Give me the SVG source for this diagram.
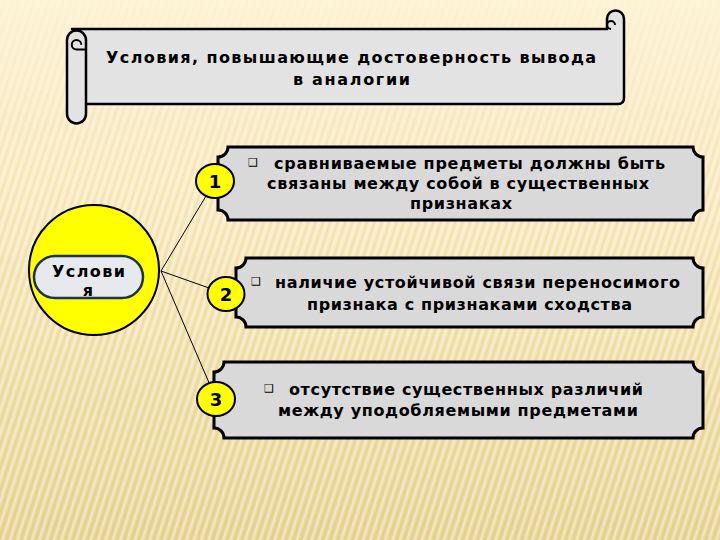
<svg xmlns="http://www.w3.org/2000/svg" width="720" height="540" viewBox="0 0 720 540">
<defs>
<linearGradient id="bg" x1="0" y1="0" x2="0" y2="1">
<stop offset="0" stop-color="#fdf3d6"/>
<stop offset="0.45" stop-color="#f9e9bd"/>
<stop offset="1" stop-color="#e9d696"/>
</linearGradient>
<pattern id="stripes" width="7" height="40" patternUnits="userSpaceOnUse" patternTransform="rotate(18)">
<rect x="0" y="0" width="2.5" height="40" fill="#ffffff" opacity="0.45"/>
<rect x="4" y="0" width="1.5" height="40" fill="#c9b26a" opacity="0.25"/>
</pattern>
<linearGradient id="fade" x1="0" y1="0" x2="0" y2="1">
<stop offset="0" stop-color="#fff" stop-opacity="0.1"/>
<stop offset="0.4" stop-color="#fff" stop-opacity="0.7"/>
<stop offset="1" stop-color="#fff" stop-opacity="0.9"/>
</linearGradient>
<mask id="m"><rect width="720" height="540" fill="url(#fade)"/></mask>
<style>
.scroll{fill:#e3e3e3;stroke:#000;stroke-width:2.5;stroke-linejoin:round}
.curl{fill:none;stroke:#000;stroke-width:2}
.box{fill:#d9d9d9;stroke:#000;stroke-width:3}
.num{fill:#ffff00;stroke:#000;stroke-width:2}
.t{font-family:"DejaVu Sans","Liberation Sans",sans-serif;font-weight:bold;font-size:16px;fill:#000}
.n{font-family:"DejaVu Sans","Liberation Sans",sans-serif;font-weight:bold;font-size:18px;fill:#000;text-anchor:middle}
.b{font-family:"DejaVu Sans",sans-serif;font-size:11px;fill:#000}
.conn{stroke:#000;stroke-width:1;fill:none}
</style>
</defs>
<rect width="720" height="540" fill="url(#bg)"/>
<rect width="720" height="540" fill="url(#stripes)" mask="url(#m)"/>

<g id="title">
<path class="scroll" d="M72,29 H607 V19 A8.5,8.5 0 0 1 624,19 V98 Q624,104 618,104 H80 V29 Z"/>
<path class="curl" d="M611,29 A4,4 0 0 1 611,21 A4,4 0 0 1 615,25 M607,19 V29"/>
<path class="scroll" d="M67,40 A9.5,9.5 0 0 1 86,40 V114 A9.5,9.5 0 0 1 67,114 Z"/>
<path class="curl" d="M76.5,49.5 A4.75,4.75 0 0 1 76.5,40 A4.75,4.75 0 0 1 81.25,44.75 M76.5,49.5 H86"/>
<text class="t" x="106" y="63" textLength="490" lengthAdjust="spacing">Условия, повышающие достоверность вывода</text>
<text class="t" x="293" y="85" textLength="117" lengthAdjust="spacing">в аналогии</text>
</g>

<g id="connectors">
<line class="conn" x1="161" y1="271" x2="215" y2="181"/>
<line class="conn" x1="161" y1="271" x2="226" y2="294"/>
<line class="conn" x1="161" y1="271" x2="216" y2="399"/>
</g>

<g id="center">
<circle cx="94" cy="270" r="65" fill="#ffff00" stroke="#000" stroke-width="2"/>
<rect x="34" y="256" width="109" height="42" rx="21" fill="#e6e9ee" stroke="#1f3050" stroke-width="2.5"/>
<text class="t" x="52" y="277" textLength="73" lengthAdjust="spacing">Услови</text>
<text class="t" x="88" y="296" text-anchor="middle">я</text>
</g>

<g id="box1">
<path class="box" d="M228,147 H693 A10,10 0 0 0 703,157 V210 A10,10 0 0 0 693,220 H228 A10,10 0 0 0 218,210 V157 A10,10 0 0 0 228,147 Z"/>
<text class="b" x="248" y="166">❑</text>
<text class="t" x="274" y="169" textLength="391" lengthAdjust="spacing">сравниваемые предметы должны быть</text>
<text class="t" x="267" y="189" textLength="382" lengthAdjust="spacing">связаны между собой в существенных</text>
<text class="t" x="410" y="209" textLength="102" lengthAdjust="spacing">признаках</text>
</g>

<g id="box2">
<path class="box" d="M246,258 H693 A10,10 0 0 0 703,268 V317 A10,10 0 0 0 693,327 H246 A10,10 0 0 0 236,317 V268 A10,10 0 0 0 246,258 Z"/>
<text class="b" x="251" y="285">❑</text>
<text class="t" x="275" y="288" textLength="405" lengthAdjust="spacing">наличие устойчивой связи переносимого</text>
<text class="t" x="307" y="310" textLength="325" lengthAdjust="spacing">признака с признаками сходства</text>
</g>

<g id="box3">
<path class="box" d="M224,362 H693 A10,10 0 0 0 703,372 V428 A10,10 0 0 0 693,438 H224 A10,10 0 0 0 214,428 V372 A10,10 0 0 0 224,362 Z"/>
<text class="b" x="264" y="392">❑</text>
<text class="t" x="289" y="395" textLength="354" lengthAdjust="spacing">отсутствие существенных различий</text>
<text class="t" x="278" y="416" textLength="360" lengthAdjust="spacing">между уподобляемыми предметами</text>
</g>

<g id="n1"><ellipse class="num" cx="215" cy="181" rx="19" ry="17"/><text class="n" x="215" y="188">1</text></g>
<g id="n2"><ellipse class="num" cx="226" cy="294" rx="18.5" ry="17"/><text class="n" x="226" y="301">2</text></g>
<g id="n3"><ellipse class="num" cx="216" cy="399" rx="19" ry="17"/><text class="n" x="216" y="406">3</text></g>
</svg>
